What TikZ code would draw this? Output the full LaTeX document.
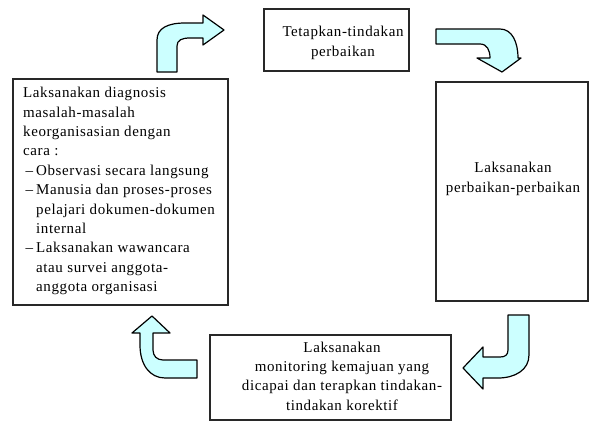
\documentclass[tikz,border=0pt]{standalone}
\usepackage{fontspec}
\setmainfont{Liberation Serif}[LetterSpace=4]
\usepackage{xcolor}
\usepackage{tikz}
\usetikzlibrary{calc,positioning}
\definecolor{arrowCyan}{RGB}{204,255,255}
\definecolor{boxLine}{RGB}{40,40,40}
\newcommand{\butir}{\makebox[13pt][l]{\,--}}
\newcommand{\lanjut}{\makebox[13pt][l]{}}

\begin{document}
\begin{tikzpicture}[x=1pt,y=-1pt,
    kotak/.style={draw=boxLine, line width=1.1pt},
    panah/.style={draw=black, line width=1.2pt, fill=arrowCyan, line join=round},
    teks/.style={inner sep=0pt, font=\fontsize{15}{19.4}\selectfont}]
    \useasboundingbox (0,0) rectangle (590,421);

    % boxes
    \draw[kotak] (13,79) rectangle (228,305);
    \draw[kotak] (264,9) rectangle (409,71);
    \draw[kotak] (436,82) rectangle (588,301);
    \draw[kotak] (210,335) rectangle (451,420);

    % texts
    \node[teks, anchor=north west, align=left] (diagnosis) at (23,87)
        {Laksanakan diagnosis\\masalah-masalah\\keorganisasian dengan\\cara :\\
         \butir Observasi secara langsung\\
         \butir Manusia dan proses-proses\\
         \lanjut pelajari dokumen-dokumen\\
         \lanjut internal\\
         \butir Laksanakan wawancara\\
         \lanjut atau survei anggota-\\
         \lanjut anggota organisasi};
    \node[teks, align=center] (tetapkan) at (343,43)
        {Tetapkan-tindakan\\perbaikan};
    \node[teks, align=center] (perbaikan) at (513,179)
        {Laksanakan\\perbaikan-perbaikan};
    \node[teks, align=center] (monitoring) at (342,376)
        {Laksanakan\\monitoring kemajuan yang\\dicapai dan terapkan tindakan-\\tindakan korektif};

    % curved block arrows
    \draw[panah] (157,72) -- (157,40) .. controls (157,28) and (168,23) .. (185,23)
        -- (203,23) -- (203,15) -- (224,30) -- (203,45) -- (203,38) -- (190,38)
        .. controls (182,38) and (177,40) .. (177,46) -- (177,72) -- cycle;
    \draw[panah] (436,29) -- (500,29) .. controls (512,29) and (518,42) .. (518,58)
        -- (521,58) -- (502,72) -- (477,58) -- (490,58)
        .. controls (490,50) and (487,44) .. (480,44) -- (436,44) -- cycle;
    \draw[panah] (508,315) -- (529,315) -- (529,355) .. controls (529,370) and (515,378) .. (498,378)
        -- (483,378) -- (483,389) -- (463,368) -- (483,347) -- (483,357) -- (500,357)
        .. controls (505,357) and (508,355) .. (508,350) -- cycle;
    \draw[panah] (197,360) -- (197,378) -- (165,378) .. controls (150,378) and (140,365) .. (140,345)
        -- (140,333) -- (132,333) -- (152,316) -- (170,333) -- (153,333) -- (153,350)
        .. controls (153,356) and (157,360) .. (163,360) -- cycle;
\end{tikzpicture}
\end{document}
